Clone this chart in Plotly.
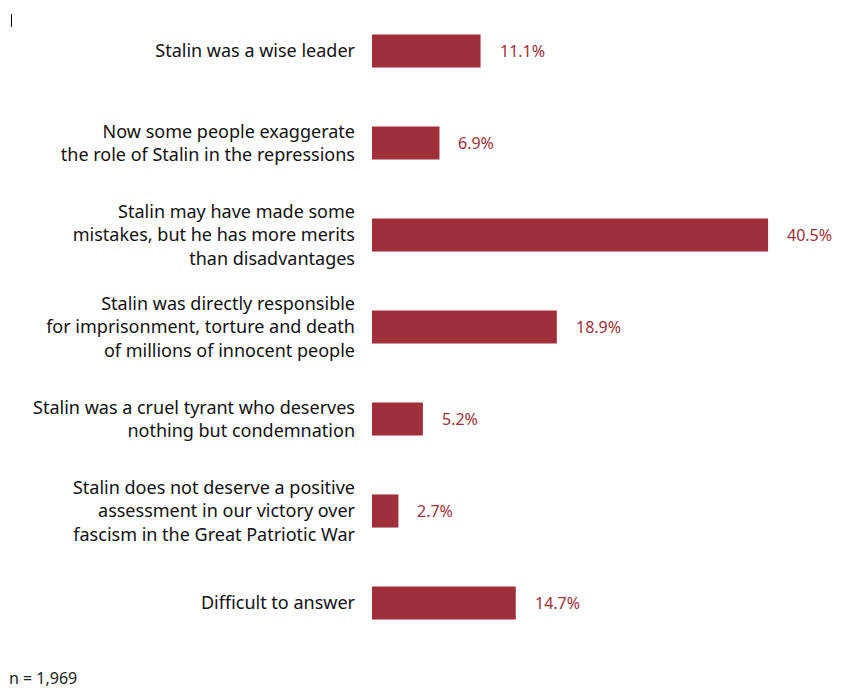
import plotly.graph_objects as go

categories = [
    "Stalin was a wise leader",
    "Now some people exaggerate<br>the role of Stalin in the repressions",
    "Stalin may have made some<br>mistakes, but he has more merits<br>than disadvantages",
    "Stalin was directly responsible<br>for imprisonment, torture and death<br>of millions of innocent people",
    "Stalin was a cruel tyrant who deserves<br>nothing but condemnation",
    "Stalin does not deserve a positive<br>assessment in our victory over<br>fascism in the Great Patriotic War",
    "Difficult to answer",
]
values = [11.1, 6.9, 40.5, 18.9, 5.2, 2.7, 14.7]
value_labels = ["11.1%", "6.9%", "40.5%", "18.9%", "5.2%", "2.7%", "14.7%"]
note = "n = 1,969"

W, H = 841, 690
L, R, T, B = 372, 0, 5, 41
pw, ph = W - L - R, H - T - B
BAR = "#9E2F3B"
FONT = "Noto Sans"

fig = go.Figure()
fig.add_trace(go.Bar(
    x=values, y=categories, orientation="h",
    marker=dict(color=BAR, line=dict(width=0)),
    width=0.36, hoverinfo="skip",
))

for c, v, t in zip(categories, values, value_labels):
    fig.add_annotation(x=v, y=c, text=t, showarrow=False, xanchor="left",
                       xshift=17, font=dict(family=FONT, size=16, color=BAR))

def px_x(p):
    return (p - L) / pw

def px_y(p):
    return 1 - (p - T) / ph

fig.add_annotation(x=px_x(8), y=px_y(689.5), xref="paper", yref="paper", text=note,
                   showarrow=False, xanchor="left", yanchor="bottom", borderpad=0,
                   font=dict(family=FONT, size=16, color="#222"))
fig.add_shape(type="line", xref="paper", yref="paper",
              x0=px_x(11.5), x1=px_x(11.5), y0=px_y(14), y1=px_y(27),
              line=dict(color="black", width=1))

fig.update_layout(
    width=W, height=H,
    margin=dict(l=L, r=R, t=T, b=B, pad=0),
    paper_bgcolor="white", plot_bgcolor="white",
    showlegend=False,
    font=dict(family=FONT, size=18, color="#111"),
    xaxis=dict(range=[0, pw / 9.78], visible=False, fixedrange=True),
    yaxis=dict(autorange="reversed", showgrid=False, zeroline=False, showline=False,
               ticks="", ticklabelstandoff=16,
               tickfont=dict(family=FONT, size=18, color="#111"), fixedrange=True),
)

fig.write_html("out.html")
